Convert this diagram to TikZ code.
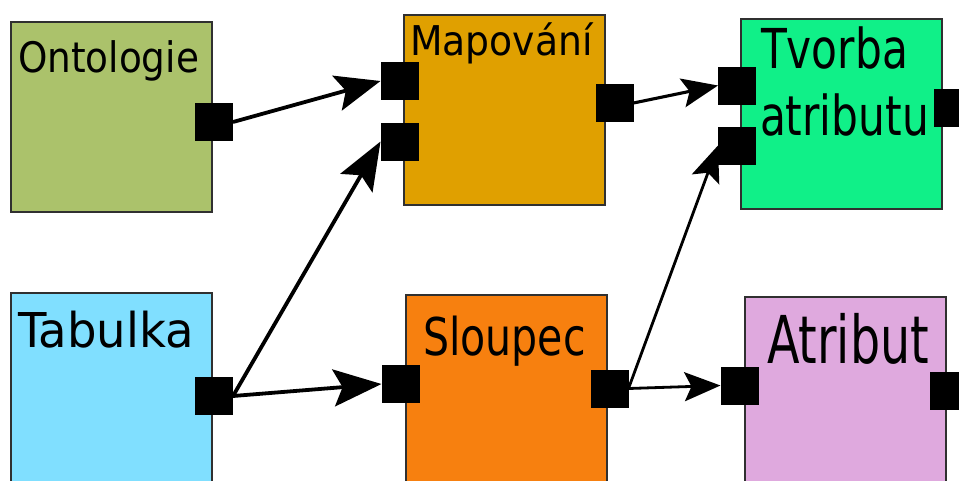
\documentclass[tikz,border=0pt]{standalone}
\usepackage{fontspec}
\setmainfont{DejaVu Sans}
\usetikzlibrary{arrows.meta}

\definecolor{boxline}{HTML}{303030}
\definecolor{ontfill}{HTML}{ABC26B}
\definecolor{mapfill}{HTML}{E0A000}
\definecolor{tvofill}{HTML}{10F088}
\definecolor{tabfill}{HTML}{80DFFF}
\definecolor{slofill}{HTML}{F7800F}
\definecolor{atrfill}{HTML}{DFA9DE}

% condensed label: size, horizontal factor, text
\newcommand\boxlabel[3]{\scalebox{#2}[1]{\fontsize{#1}{#1}\selectfont #3}}

\tikzset{
  block/.style={draw=boxline, line width=2pt, minimum width=201pt,
    minimum height=190pt, inner sep=0pt, outer sep=0pt, anchor=north west},
  port/.style={fill=black, minimum size=38pt, inner sep=0pt, outer sep=0pt},
  title/.style={anchor=base west, inner sep=0pt, outer sep=0pt},
  bigflow/.style={line width=3.8pt, -{Stealth[length=45pt, width=36pt, inset=9pt]}},
  tabflow/.style={line width=3.8pt, -{Stealth[length=48pt, width=37pt, inset=9pt]}},
  midflow/.style={line width=3.1pt, -{Stealth[length=36pt, width=29pt, inset=7pt]}},
  thinflow/.style={line width=2.8pt, -{Stealth[length=36pt, width=29pt, inset=7pt]}},
}

\begin{document}
\begin{tikzpicture}[x=1pt, y=-1pt]
  \clip (0,0) rectangle (959,480);
  \fill[white] (0,0) rectangle (959,480);

  % blocks
  \node[block, fill=ontfill] (ont) at (11,22) {};
  \node[block, fill=mapfill] (map) at (404,15) {};
  \node[block, fill=tvofill] (tvo) at (741,19) {};
  \node[block, fill=tabfill] (tab) at (11,293) {};
  \node[block, fill=slofill] (slo) at (406,295) {};
  \node[block, fill=atrfill] (atr) at (745,297) {};

  % titles
  \node[title] (ontT) at (18,72) {\boxlabel{42}{0.89}{Ontologie}};
  \node[title] (mapT) at (410,55) {\boxlabel{41}{0.92}{Mapování}};
  \node[title] (tvoT1) at (761,68) {\boxlabel{55}{0.77}{Tvorba}};
  \node[title] (tvoT2) at (760,135) {\boxlabel{55}{0.77}{atributu}};
  \node[title] (tabT) at (18,347) {\boxlabel{48}{0.97}{Tabulka}};
  \node[title] (sloT) at (423,355) {\boxlabel{52}{0.79}{Sloupec}};
  \node[title] (atrT) at (767,363) {\boxlabel{66}{0.72}{Atribut}};

  % ports
  \node[port] (ontO) at (214,122) {};
  \node[port] (mapI1) at (399.5,81) {};
  \node[port] (mapI2) at (399.5,141.5) {};
  \node[port] (mapO) at (614.5,103) {};
  \node[port] (tvoI1) at (737,85.5) {};
  \node[port] (tvoI2) at (737,145.5) {};
  \node[port] (tvoO) at (953,107.5) {};
  \node[port] (tabO) at (214,396) {};
  \node[port] (sloI) at (400.5,384) {};
  \node[port] (sloO) at (609.5,388.5) {};
  \node[port] (atrI) at (739.5,385.5) {};
  \node[port] (atrO) at (949,390.5) {};

  % connectors
  \draw[bigflow] (ontO.east) -- (mapI1.west);
  \draw[tabflow] (tabO.east) -- (mapI2.west);
  \draw[tabflow] (tabO.east) -- (sloI.west);
  \draw[midflow] (mapO.east) -- (tvoI1.west);
  \draw[thinflow] (sloO.east) -- (tvoI2.west);
  \draw[thinflow] (sloO.east) -- (atrI.west);
\end{tikzpicture}
\end{document}
